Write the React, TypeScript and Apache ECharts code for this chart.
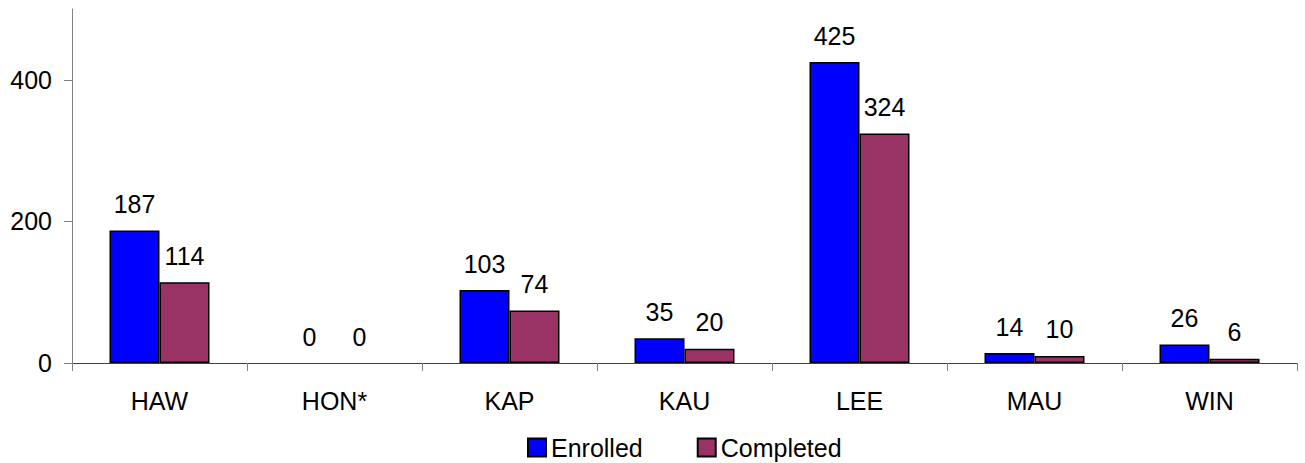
import React, { useEffect, useRef } from "react";
import * as echarts from "echarts";

const categories = ["HAW", "HON*", "KAP", "KAU", "LEE", "MAU", "WIN"];
const enrolled = [187, 0, 103, 35, 425, 14, 26];
const completed = [114, 0, 74, 20, 324, 10, 6];
const yTicks = { min: 0, max: 500, interval: 200 };

export default function App() {
  const ref = useRef<HTMLDivElement>(null);
  useEffect(() => {
    document.body.style.margin = "0";
    const chart = echarts.init(ref.current!, null, { renderer: "svg" });
    const font = "'Liberation Sans', Arial, sans-serif";
    const labelStyle = {
      show: true,
      position: "top" as const,
      distance: 14,
      fontSize: 25,
      color: "#000",
      fontFamily: font,
    };
    const toData = (arr: number[]) =>
      arr.map((v) => ({ value: v, itemStyle: { borderWidth: v === 0 ? 0 : 1.5 } }));
    chart.setOption({
      animation: false,
      backgroundColor: "#fff",
      textStyle: { fontFamily: font },
      grid: { left: 72, right: 8, top: 9, bottom: 100, containLabel: false },
      legend: {
        left: 522,
        top: 430,
        itemWidth: 18,
        itemHeight: 18,
        itemGap: 54,
        icon: "rect",
        textStyle: { fontSize: 25, color: "#000", fontFamily: font },
        data: ["Enrolled", "Completed"],
      },
      xAxis: {
        type: "category",
        data: categories,
        axisLine: { lineStyle: { color: "#404040", width: 1 } },
        axisTick: { show: true, length: 8, lineStyle: { color: "#808080" } },
        axisLabel: { fontSize: 25, color: "#000", margin: 25, fontFamily: font },
      },
      yAxis: {
        type: "value",
        min: yTicks.min,
        max: yTicks.max,
        interval: yTicks.interval,
        splitLine: { show: false },
        axisLine: { show: true, lineStyle: { color: "#808080", width: 1 } },
        axisTick: { show: true, length: 8, lineStyle: { color: "#808080" } },
        axisLabel: {
          fontSize: 25,
          color: "#000",
          margin: 20,
          fontFamily: font,
          showMaxLabel: false,
          formatter: (v: number) => (v % yTicks.interval === 0 ? String(v) : ""),
        },
      },
      series: [
        {
          name: "Enrolled",
          type: "bar",
          data: toData(enrolled),
          barWidth: 50,
          barGap: "0%",
          itemStyle: { color: "#0000FF", borderColor: "#000", borderWidth: 1.5 },
          label: labelStyle,
        },
        {
          name: "Completed",
          type: "bar",
          data: toData(completed),
          barWidth: 50,
          barGap: "0%",
          itemStyle: { color: "#993366", borderColor: "#000", borderWidth: 1.5 },
          label: labelStyle,
        },
      ],
    });
    return () => chart.dispose();
  }, []);
  return <div ref={ref} style={{ width: 1305, height: 463 }} />;
}
